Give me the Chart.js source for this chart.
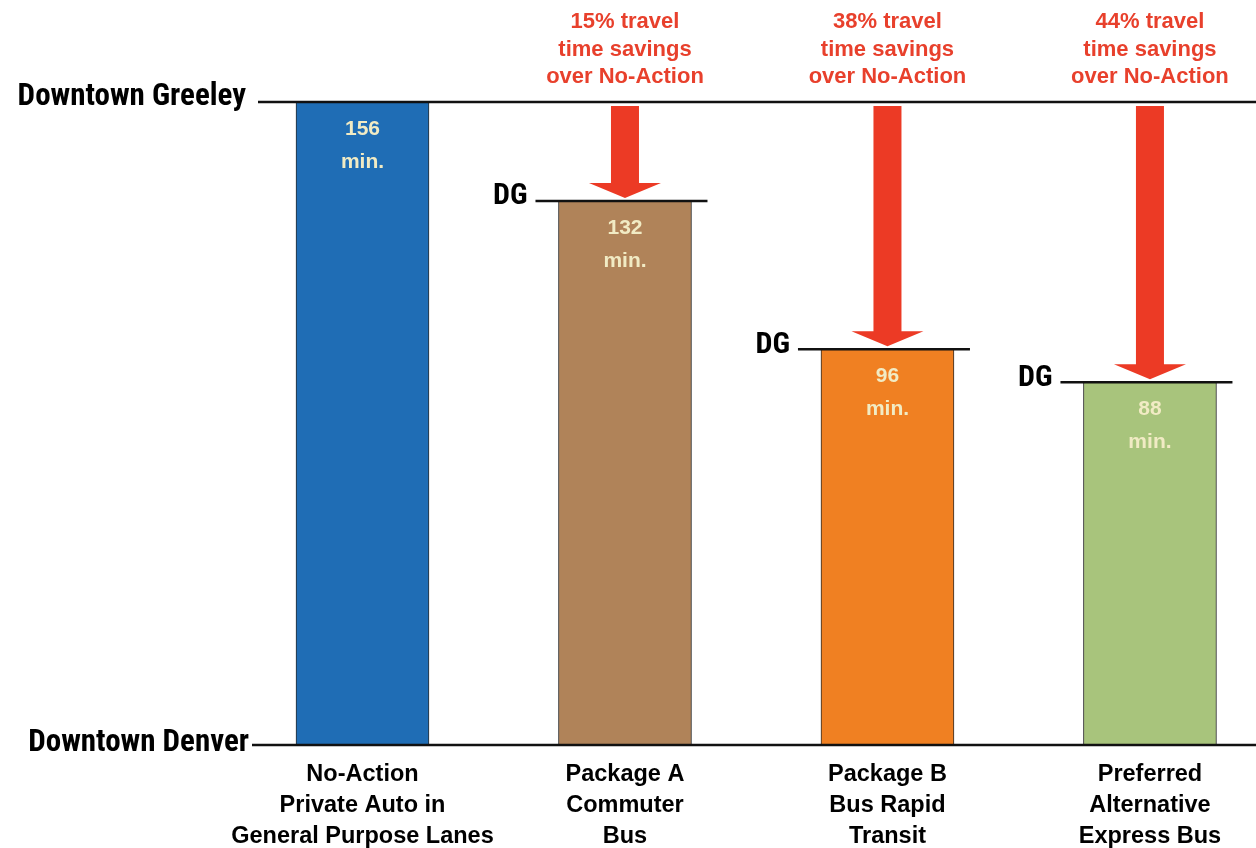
<!DOCTYPE html>
<html>
<head>
<meta charset="utf-8">
<script src="https://cdn.jsdelivr.net/npm/chart.js@4/dist/chart.umd.min.js"></script>
<style>
  html, body { margin: 0; padding: 0; background: #ffffff; }
  #wrap { width: 1256px; height: 848px; position: relative; }
</style>
</head>
<body>
<div id="wrap"><canvas id="chart"></canvas></div>
<script>
// Travel time, Downtown Greeley -> Downtown Denver (minutes)
const categories = [
  ['No-Action', 'Private Auto in', 'General Purpose Lanes'],
  ['Package A', 'Commuter', 'Bus'],
  ['Package B', 'Bus Rapid', 'Transit'],
  ['Preferred', 'Alternative', 'Express Bus']
];
const travelMinutes = [156, 132, 96, 88];
const savingsPct = [null, 15, 38, 44];
const barColors = ['#1f6db5', '#b08359', '#f08022', '#a8c47c'];
const originLabel = 'Downtown Greeley';
const destinationLabel = 'Downtown Denver';
const originShort = 'DG';
const baselineMinutes = travelMinutes[0];

const COND = '"Roboto Condensed", "DejaVu Sans Condensed", sans-serif';
const SANS = '"Liberation Sans", Arial, Helvetica, sans-serif';

const annotations = {
  id: 'travelAnnotations',
  afterDatasetsDraw(chart) {
    const { ctx } = chart;
    const y = chart.scales.y;
    const meta = chart.getDatasetMeta(0);
    const yTop = y.getPixelForValue(baselineMinutes);
    const yBase = y.getPixelForValue(0);
    const W = chart.width;

    ctx.save();
    // reference lines: origin (top) and destination (baseline)
    ctx.strokeStyle = '#111';
    ctx.lineWidth = 2.5;
    ctx.beginPath();
    ctx.moveTo(258, yTop); ctx.lineTo(W, yTop);
    ctx.moveTo(252, yBase); ctx.lineTo(W, yBase);
    ctx.stroke();

    ctx.fillStyle = '#000';
    ctx.font = 'bold 31px ' + COND;
    ctx.textAlign = 'right';
    ctx.textBaseline = 'middle';
    ctx.fillText(originLabel, 246, yTop - 5);
    ctx.fillText(destinationLabel, 249, yBase - 2);

    meta.data.forEach((bar, i) => {
      const cx = bar.x;
      const top = bar.y;
      const half = bar.width / 2;

      if (i > 0) {
        // origin marker for this option
        ctx.strokeStyle = '#111';
        ctx.lineWidth = 2.5;
        ctx.beginPath();
        ctx.moveTo(cx - half - 23, top);
        ctx.lineTo(cx + half + 16, top);
        ctx.stroke();
        ctx.fillStyle = '#000';
        ctx.font = 'bold 30px ' + COND;
        ctx.textAlign = 'right';
        ctx.textBaseline = 'middle';
        ctx.fillText(originShort, cx - half - 31, top - 4);

        // savings arrow
        const shaftTop = yTop + 4;
        const headTop = top - 18;
        const tip = top - 3;
        ctx.fillStyle = '#ec3a25';
        ctx.beginPath();
        ctx.moveTo(cx - 14, shaftTop);
        ctx.lineTo(cx + 14, shaftTop);
        ctx.lineTo(cx + 14, headTop);
        ctx.lineTo(cx + 36, headTop);
        ctx.lineTo(cx, tip);
        ctx.lineTo(cx - 36, headTop);
        ctx.lineTo(cx - 14, headTop);
        ctx.closePath();
        ctx.fill();

        // savings text
        ctx.fillStyle = '#e8402c';
        ctx.font = 'bold 22px ' + SANS;
        ctx.textAlign = 'center';
        ctx.textBaseline = 'middle';
        const lines = [savingsPct[i] + '% travel', 'time savings', 'over No-Action'];
        lines.forEach((t, k) => ctx.fillText(t, cx, 22 + k * 27.5));
      }

      // value inside bar
      ctx.fillStyle = '#f1ebc4';
      ctx.font = 'bold 21px ' + SANS;
      ctx.textAlign = 'center';
      ctx.textBaseline = 'middle';
      ctx.fillText(String(travelMinutes[i]), cx, top + 27);
      ctx.fillText('min.', cx, top + 60);
    });
    ctx.restore();
  }
};

new Chart(document.getElementById('chart'), {
  type: 'bar',
  data: {
    datasets: [{
      data: travelMinutes.map((v, i) => ({ x: i, y: v })),
      backgroundColor: barColors,
      borderColor: '#2a2a2a',
      borderWidth: 1,
      borderSkipped: false,
      barThickness: 133
    }]
  },
  options: {
    responsive: true,
    maintainAspectRatio: false,
    animation: false,
    layout: { padding: { left: 231.25, right: 0, top: 102, bottom: 0 } },
    plugins: { legend: { display: false }, tooltip: { enabled: false } },
    scales: {
      x: {
        type: 'linear',
        offset: false,
        min: -0.5,
        max: 3.404,
        grid: { display: false, drawTicks: false },
        border: { display: false },
        afterBuildTicks(scale) {
          scale.ticks = categories.map((_, i) => ({ value: i }));
        },
        afterFit(scale) {
          scale.height = 103;
          scale.paddingLeft = 0;
          scale.paddingRight = 0;
        },
        ticks: {
          autoSkip: false,
          maxRotation: 0,
          padding: 14,
          color: '#000',
          font: { family: SANS, size: 23.5, weight: 'bold', lineHeight: 1.32 },
          callback: (v) => categories[v] || ''
        }
      },
      y: {
        display: false,
        min: 0,
        max: baselineMinutes
      }
    }
  },
  plugins: [annotations]
});
</script>
</body>
</html>
